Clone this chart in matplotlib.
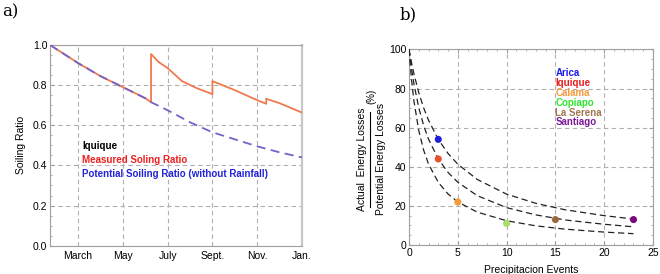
import matplotlib
matplotlib.use('Agg')
import matplotlib.pyplot as plt
from matplotlib.lines import Line2D
from matplotlib.ticker import MultipleLocator

plt.rcParams['font.family'] = ['Liberation Sans', 'DejaVu Sans']

# ---- panel a) : soiling ratio, Iquique (x in months, March=3 ... Jan=13)
month_ticks = [3, 5, 7, 9, 11, 13]
month_labels = ['March', 'May', 'July', 'Sept.', 'Nov.', 'Jan.']

pot_x = [1.75, 3, 4, 5, 6, 6.26, 7, 8, 9, 10, 11, 12, 13]
pot_y = [1.0, 0.91, 0.845, 0.79, 0.735, 0.715, 0.675, 0.615, 0.565, 0.53, 0.495, 0.465, 0.44]

meas_x = [1.75, 3, 4, 5, 6, 6.26, 6.26, 6.6, 7.0, 7.64, 8.3, 9.0, 9.0, 10, 11, 11.4, 11.4, 12, 13]
meas_y = [1.0, 0.91, 0.845, 0.79, 0.735, 0.715, 0.955, 0.915, 0.885, 0.82, 0.785, 0.755,
          0.82, 0.775, 0.725, 0.707, 0.732, 0.71, 0.663]

# ---- panel b) : relative losses vs precipitation events
cities = ['Arica', 'Iquique', 'Calama', 'Copiapo', 'La Serena', 'Santiago']
events = [3, 3, 5, 10, 15, 23]
losses = [54, 44, 22, 11, 13, 13]
text_colors = ['#1a1aee', '#e81e1e', '#f59a3c', '#2ee62e', '#a07850', '#7a1a9a']
dot_colors = ['#1f1fe0', '#e4512c', '#f39a3c', '#a9dc6c', '#9a6a3c', '#7a0a7a']

fit_x = [0, 0.25, 0.5, 1, 1.5, 2, 3, 4, 5, 7, 10, 13, 16, 20, 23]
fit_top = [100, 93.4, 87.6, 77.9, 70.1, 63.8, 54.0, 46.8, 41.3, 33.5, 26.0, 21.3, 18.0, 15.0, 13.3]
fit_mid = [100, 90.4, 82.5, 70.2, 61.1, 54.1, 44.0, 37.1, 32.1, 25.2, 19.1, 15.4, 12.8, 10.6, 9.3]
fit_low = [100, 84.9, 73.8, 58.5, 48.5, 41.4, 32.0, 26.1, 22.0, 16.8, 12.4, 9.8, 8.1, 6.6, 5.8]

frame = '#a0a0a0'
grid_kw = dict(color='#b0b0b0', linestyle=(0, (4, 3)), linewidth=0.8)
tick_fs = 7.5

fig = plt.figure(figsize=(6.6, 2.74), dpi=100)

# ---------------- a)
ax1 = fig.add_axes([0.0758, 0.1033, 0.3818, 0.7325])
ax1.plot(meas_x, meas_y, color='#f07a4e', linewidth=1.3, zorder=3)
ax1.plot(pot_x, pot_y, color='#7462c8', linewidth=1.3, linestyle=(0, (5, 3)), zorder=4)
ax1.set_xlim(1.75, 13)
ax1.set_ylim(0, 1.0)
ax1.set_xticks(month_ticks)
ax1.set_xticklabels(month_labels)
ax1.set_yticks([0, 0.2, 0.4, 0.6, 0.8, 1.0])
ax1.set_yticklabels(['0.0', '0.2', '0.4', '0.6', '0.8', '1.0'])
ax1.yaxis.set_minor_locator(MultipleLocator(0.05))
ax1.tick_params(axis='x', length=0, labelsize=tick_fs, pad=4)
ax1.tick_params(axis='y', direction='in', length=3, color=frame, labelsize=tick_fs, pad=2)
ax1.tick_params(axis='y', which='minor', direction='in', length=1.5, color=frame)
ax1.grid(True, **grid_kw)
ax1.set_axisbelow(True)
for s in ax1.spines.values():
    s.set_color(frame)
    s.set_linewidth(0.8)
ax1.spines['right'].set_color('#c8c8c8')
ax1.spines['right'].set_linewidth(1.6)
ax1.set_ylabel('Soiling Ratio', fontsize=tick_fs, labelpad=5)
ax1.text(0.127, 0.497, 'Iquique', transform=ax1.transAxes, color='black',
         fontsize=7, fontweight='bold', va='center')
ax1.text(0.127, 0.427, 'Measured Soling Ratio', transform=ax1.transAxes, color='#ee2020',
         fontsize=7, fontweight='bold', va='center')
ax1.text(0.127, 0.357, 'Potential Soiling Ratio (without Rainfall)', transform=ax1.transAxes,
         color='#2424d8', fontsize=7, fontweight='bold', va='center')

# ---------------- b)
ax2 = fig.add_axes([0.6197, 0.1058, 0.3697, 0.714])
for fy in (fit_top, fit_mid, fit_low):
    ax2.plot(fit_x, fy, color='#222222', linewidth=0.9, linestyle=(0, (5, 3)), zorder=3)
ax2.scatter(events, losses, s=26, c=dot_colors, zorder=4, edgecolors='none')
ax2.set_xlim(0, 25)
ax2.set_ylim(0, 100)
ax2.set_xticks([0, 5, 10, 15, 20, 25])
ax2.set_yticks([0, 20, 40, 60, 80, 100])
ax2.xaxis.set_minor_locator(MultipleLocator(1))
ax2.yaxis.set_minor_locator(MultipleLocator(5))
ax2.tick_params(which='both', direction='in', top=True, right=True, color=frame)
ax2.tick_params(which='major', length=3, labelsize=tick_fs, pad=2)
ax2.tick_params(which='minor', length=1.5)
ax2.grid(True, **grid_kw)
ax2.set_axisbelow(True)
for s in ax2.spines.values():
    s.set_color(frame)
    s.set_linewidth(0.8)
ax2.set_xlabel('Precipitacion Events', fontsize=tick_fs, labelpad=5)
for i, (name, col) in enumerate(zip(cities, text_colors)):
    ax2.text(0.60, 0.877 - i * 0.05, name, transform=ax2.transAxes, color=col,
             fontsize=7, fontweight='bold', va='center')

# stacked fraction label on the y axis
fig.text(0.548, 0.418, 'Actual  Energy Losses', rotation=90, fontsize=tick_fs,
         ha='center', va='center')
fig.text(0.577, 0.42, 'Potential Energy Losses', rotation=90, fontsize=tick_fs,
         ha='center', va='center')
fig.text(0.562, 0.65, '(%)', rotation=90, fontsize=7, ha='center', va='center')
fig.add_artist(Line2D([0.561, 0.561], [0.245, 0.59], color='black', linewidth=0.8,
                      transform=fig.transFigure))

fig.text(0.003, 0.955, 'a)', fontsize=12, family='DejaVu Serif', va='center')
fig.text(0.606, 0.945, 'b)', fontsize=12, family='DejaVu Serif', va='center')

fig.savefig('out.png', dpi=100)
